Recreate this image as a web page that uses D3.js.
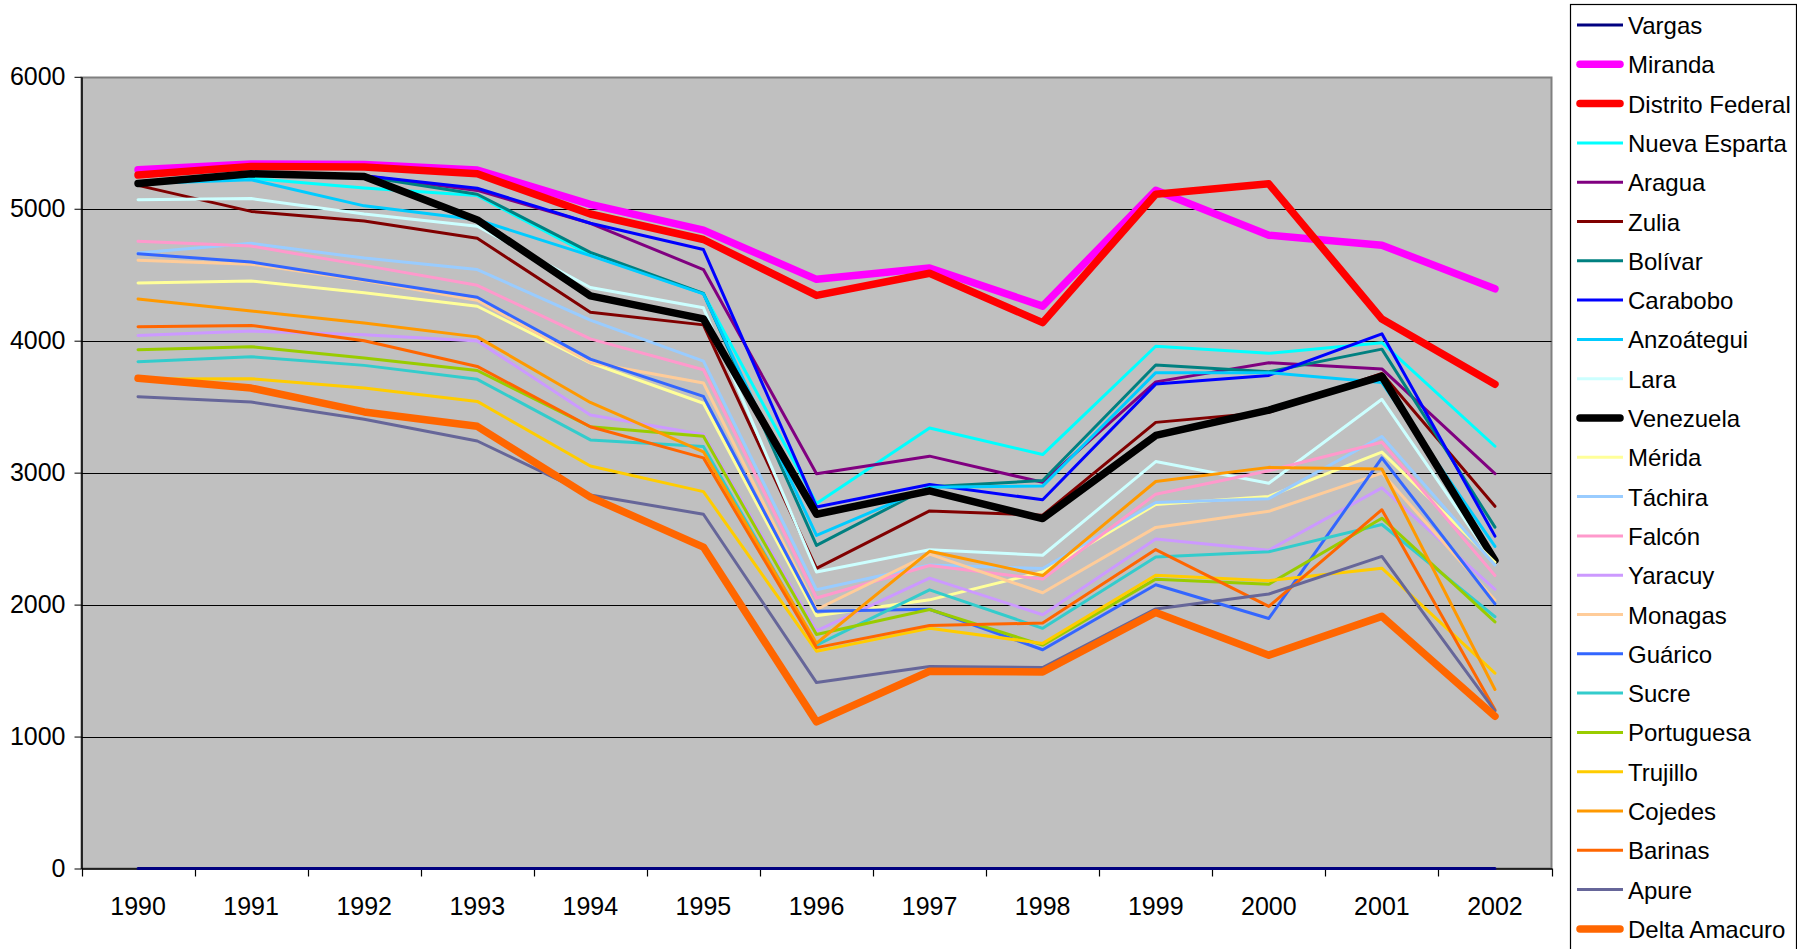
<!DOCTYPE html>
<html>
<head>
<meta charset="utf-8">
<script src="https://cdn.jsdelivr.net/npm/d3@7/dist/d3.min.js"></script>
<style>
  html, body { margin: 0; padding: 0; background: #ffffff; }
  svg { display: block; font-family: "Liberation Sans", Arial, sans-serif; }
</style>
</head>
<body>
<svg id="chart" width="1797" height="949"></svg>
<script>
// Years on the category axis
const years = ["1990","1991","1992","1993","1994","1995","1996","1997","1998","1999","2000","2001","2002"];

// Value-axis tick labels
const yTicks = [0, 1000, 2000, 3000, 4000, 5000, 6000];

// One array per state, in legend order
const vargas        = [0,0,0,0,0,0,0,0,0,0,0,0,0];
const miranda       = [5295,5340,5335,5293,5033,4838,4465,4551,4262,5140,4800,4724,4393];
const distritoFed   = [5255,5320,5316,5265,4960,4767,4343,4511,4137,5110,5189,4164,3670];
const nuevaEsparta  = [5200,5232,5157,5100,4650,4358,2767,3338,3137,3958,3904,3985,3200];
const aragua        = [5205,5258,5250,5139,4890,4539,2992,3125,2927,3688,3833,3786,2992];
const zulia         = [5177,4980,4907,4776,4216,4120,2274,2710,2677,3381,3458,3752,2745];
const bolivar       = [5200,5255,5245,5110,4670,4358,2449,2893,2940,3816,3765,3936,2587];
const carabobo      = [5205,5262,5250,5155,4890,4691,2740,2910,2795,3671,3737,4052,2519];
const anzoategui    = [5190,5220,5022,4917,4645,4355,2524,2890,2898,3758,3758,3683,2441];
const lara          = [5068,5077,4960,4868,4403,4249,2247,2415,2374,3084,2920,3556,2311];
const venezuela     = [5192,5265,5245,4915,4340,4165,2685,2862,2652,3282,3474,3730,2335];
const merida        = [4437,4452,4364,4261,3832,3526,1915,2036,2247,2759,2820,3156,2320];
const tachira       = [4664,4738,4626,4539,4156,3845,2112,2300,2274,2774,2803,3274,2300];
const falcon        = [4753,4717,4571,4420,4014,3780,2050,2296,2193,2837,3015,3230,2220];
const yaracuy       = [4040,4073,4045,3998,3437,3290,1801,2201,1923,2498,2412,2885,2116];
const monagas       = [4610,4580,4457,4307,3835,3680,1963,2382,2090,2585,2707,2997,2033];
const guarico       = [4659,4596,4462,4329,3860,3578,1950,1965,1658,2150,1895,3112,2006];
const sucre         = [3841,3879,3813,3707,3248,3199,1693,2112,1820,2361,2400,2607,1908];
const portuguesa    = [3932,3955,3869,3774,3348,3275,1774,1963,1693,2193,2154,2655,1869];
const trujillo      = [3710,3712,3641,3540,3050,2856,1647,1820,1706,2222,2181,2276,1480];
const cojedes       = [4316,4225,4134,4029,3532,3158,1707,2404,2220,2933,3040,3028,1357];
const barinas       = [4106,4116,4000,3805,3348,3112,1674,1842,1860,2417,1986,2719,1203];
const apure         = [3576,3535,3404,3240,2830,2685,1409,1531,1523,1967,2080,2365,1195];
const deltaAmacuro  = [3715,3641,3460,3351,2815,2436,1111,1495,1490,1940,1617,1911,1154];

const seriesNames = ["Vargas","Miranda","Distrito Federal","Nueva Esparta","Aragua","Zulia","Bolívar",
  "Carabobo","Anzoátegui","Lara","Venezuela","Mérida","Táchira","Falcón","Yaracuy","Monagas",
  "Guárico","Sucre","Portuguesa","Trujillo","Cojedes","Barinas","Apure","Delta Amacuro"];
const seriesValues = [vargas, miranda, distritoFed, nuevaEsparta, aragua, zulia, bolivar,
  carabobo, anzoategui, lara, venezuela, merida, tachira, falcon, yaracuy, monagas,
  guarico, sucre, portuguesa, trujillo, cojedes, barinas, apure, deltaAmacuro];
const seriesColors = ["#000080","#FF00FF","#FF0000","#00FFFF","#800080","#800000","#008080",
  "#0000FF","#00CCFF","#CCFFFF","#000000","#FFFF99","#99CCFF","#FF99CC","#CC99FF","#FFCC99",
  "#3366FF","#33CCCC","#99CC00","#FFCC00","#FF9900","#FF6600","#666699","#FF6600"];
const thickSeries = ["Miranda","Distrito Federal","Venezuela","Delta Amacuro"];

const series = seriesNames.map((name, i) => ({
  name, color: seriesColors[i], values: seriesValues[i], thick: thickSeries.includes(name)
}));

const svg = d3.select("#chart");
const plot = { left: 81.5, right: 1551.5, top: 76.8, bottom: 868.5 };

const x = d3.scaleBand().domain(years).range([plot.left, plot.right]).paddingInner(0).paddingOuter(0);
const y = d3.scaleLinear().domain([0, 6000]).range([plot.bottom, plot.top]);
const cx = d => x(d) + x.bandwidth() / 2;
const crisp = v => Math.round(v) + 0.5;

// Plot area background
svg.append("rect")
  .attr("x", plot.left).attr("y", crisp(plot.top))
  .attr("width", plot.right - plot.left).attr("height", plot.bottom - crisp(plot.top))
  .attr("fill", "#C0C0C0").attr("stroke", "#808080").attr("stroke-width", 2);

// Horizontal gridlines
svg.append("g").selectAll("line")
  .data(yTicks.filter(t => t > 0 && t < 6000))
  .join("line")
  .attr("x1", plot.left).attr("x2", plot.right)
  .attr("y1", d => crisp(y(d))).attr("y2", d => crisp(y(d)))
  .attr("stroke", "#000").attr("stroke-width", 1.2);

// Value axis
const yAxis = svg.append("g")
  .attr("transform", `translate(${plot.left},0)`)
  .call(d3.axisLeft(y).tickValues(yTicks).tickSize(7).tickSizeOuter(0).tickPadding(9).tickFormat(d3.format("d")));
yAxis.select(".domain").attr("stroke", "#000").attr("stroke-width", 1.5);
yAxis.selectAll(".tick line").attr("stroke", "#000");
yAxis.selectAll(".tick text").attr("font-size", 25).attr("fill", "#000")
  .attr("font-family", "'Liberation Sans', Arial, sans-serif");

// Category axis: labels centred on each category, tick marks at the boundaries
const xAxis = svg.append("g")
  .attr("transform", `translate(0,${plot.bottom})`)
  .call(d3.axisBottom(x).tickSize(0).tickSizeOuter(0).tickPadding(29));
xAxis.select(".domain").attr("stroke", "#000").attr("stroke-width", 1.5);
xAxis.selectAll(".tick text").attr("font-size", 25).attr("fill", "#000")
  .attr("font-family", "'Liberation Sans', Arial, sans-serif");

const boundaries = years.map(d => x(d)).concat([x(years[years.length - 1]) + x.bandwidth()]);
svg.append("g").selectAll("line")
  .data(boundaries)
  .join("line")
  .attr("x1", d => crisp(d)).attr("x2", d => crisp(d))
  .attr("y1", plot.bottom).attr("y2", plot.bottom + 8)
  .attr("stroke", "#000").attr("stroke-width", 1.2);

// Series lines
const line = d3.line().x((v, i) => cx(years[i])).y(v => y(v));
svg.append("g").selectAll("path")
  .data(series)
  .join("path")
  .attr("d", s => line(s.values))
  .attr("fill", "none")
  .attr("stroke", s => s.color)
  .attr("stroke-width", s => s.thick ? 7.5 : 3)
  .attr("stroke-linejoin", "round")
  .attr("stroke-linecap", "round");

// Legend
const legend = svg.append("g");
legend.append("rect")
  .attr("x", 1570.5).attr("y", 4.5).attr("width", 226).attr("height", 960)
  .attr("fill", "#ffffff").attr("stroke", "#000").attr("stroke-width", 1.2);

const rowY = i => 25 + i * 39.3;
const items = legend.selectAll("g.item")
  .data(series)
  .join("g")
  .attr("class", "item")
  .attr("transform", (s, i) => `translate(0,${rowY(i)})`);
items.append("line")
  .attr("x1", s => s.thick ? 1580 : 1577).attr("x2", s => s.thick ? 1620 : 1623)
  .attr("y1", 0).attr("y2", 0)
  .attr("stroke", s => s.color)
  .attr("stroke-width", s => s.thick ? 7.5 : 3)
  .attr("stroke-linecap", s => s.thick ? "round" : "butt");
items.append("text")
  .attr("x", 1628).attr("y", 9)
  .attr("font-size", 24)
  .attr("fill", "#000")
  .text(s => s.name);
</script>
</body>
</html>
